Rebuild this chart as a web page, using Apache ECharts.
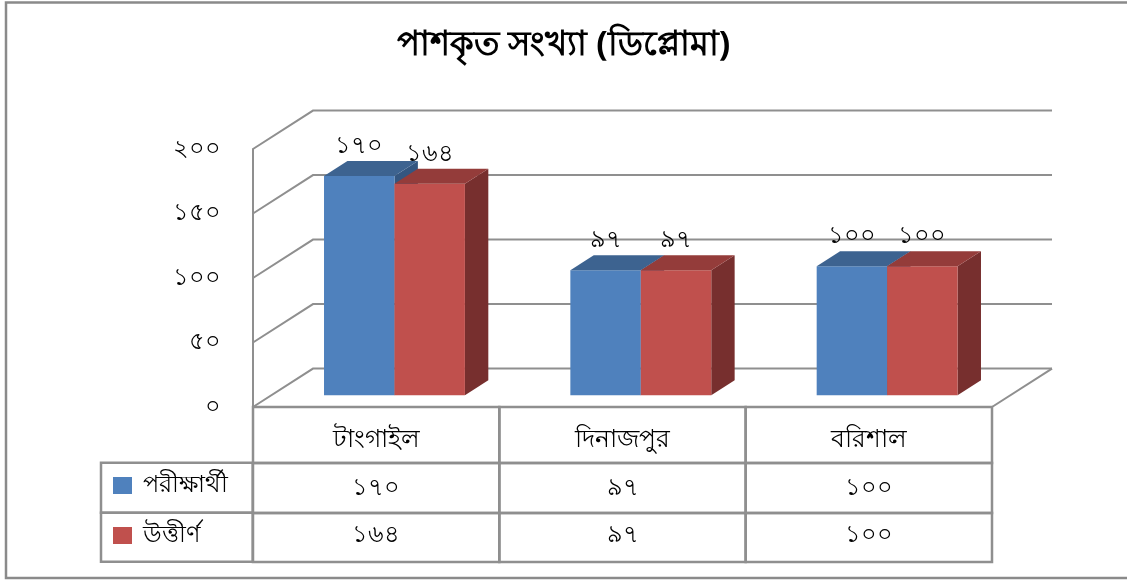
<!DOCTYPE html>
<html><head><meta charset="utf-8">
<script src="https://cdn.jsdelivr.net/npm/echarts@6/dist/echarts.min.js"></script>
<style>html,body{margin:0;padding:0;background:#fff}#c{width:1127px;height:580px}</style>
</head><body><div id="c"></div>
<script>
// ---- data ----
var titleText = 'পাশকৃত সংখ্যা (ডিপ্লোমা)';
var categories = ['টাংগাইল', 'দিনাজপুর', 'বরিশাল'];
var seriesNames = ['পরীক্ষার্থী', 'উত্তীর্ণ'];
var examinees = [170, 97, 100];
var passed = [164, 97, 100];
var yTicks = [0, 50, 100, 150, 200];

// ---- style / geometry ----
var FONT = '"Noto Sans", "DejaVu Sans", sans-serif';
var DX = 60, DY = -38.4;       // depth of the 3D box
var F0 = 0.305, FD = 0.39;     // bar front depth fraction, bar depth fraction
var BW = 0.286;                // bar width as fraction of category width
var LINE = '#8f8f8f';
var COLORS = [
  {front: '#4F81BD', top: '#3D6390', side: '#345680'},
  {front: '#C0504D', top: '#943C3A', side: '#772F2E'}
];
function bn(n) { return String(n).replace(/\d/g, function (d) { return '০১২৩৪৫৬৭৮৯'[d]; }); }

var chart = echarts.init(document.getElementById('c'), null, {renderer: 'canvas'});

function makeBar(si, vals) {
  return {
    type: 'custom', name: seriesNames[si], coordinateSystem: 'cartesian2d', z: 3 + si,
    data: vals.map(function (v, i) { return [i, v]; }),
    renderItem: function (params, api) {
      var i = api.value(0), v = api.value(1);
      var b = api.coord([i, 0]), t = api.coord([i, v]);
      var cw = api.size([1, 0])[0], w = cw * BW;
      var ox = DX * F0, oy = DY * F0, ddx = DX * FD, ddy = DY * FD;
      var x0 = b[0] + ox + (si === 0 ? -w : 0), yb = b[1] + oy, yt = t[1] + oy;
      var c = COLORS[si];
      return {type: 'group', children: [
        {type: 'polygon', shape: {points: [[x0 + w, yt], [x0 + w + ddx, yt + ddy], [x0 + w + ddx, yb + ddy], [x0 + w, yb]]}, style: {fill: c.side}},
        {type: 'rect', shape: {x: x0, y: yt, width: w, height: yb - yt}, style: {fill: c.front}},
        {type: 'polygon', shape: {points: [[x0, yt], [x0 + w, yt], [x0 + w + ddx, yt + ddy], [x0 + ddx, yt + ddy]]}, style: {fill: c.top}},
        {type: 'text', style: {text: bn(v), x: x0 + w / 2, y: yt + ddy - 15, align: 'center', verticalAlign: 'middle', fontSize: 24, fill: '#000', fontFamily: FONT}}
      ]};
    }
  };
}

var gridSeries = {
  type: 'custom', coordinateSystem: 'cartesian2d', z: 1, silent: true,
  data: yTicks.map(function (v) { return [0, v]; }),
  renderItem: function (params, api) {
    var cs = params.coordSys;
    var y = api.coord([0, api.value(1)])[1];
    var x = cs.x, xr = cs.x + cs.width;
    var kids = [
      {type: 'polyline', shape: {points: [[x, y], [x + DX, y + DY], [xr + DX, y + DY]]}, style: {stroke: LINE, lineWidth: 2, fill: null}}
    ];
    if (api.value(1) === 0) {
      kids.push({type: 'line', shape: {x1: xr, y1: y, x2: xr + DX, y2: y + DY}, style: {stroke: LINE, lineWidth: 2}});
    }
    return {type: 'group', children: kids};
  }
};

var tableSeries = {
  type: 'custom', coordinateSystem: 'cartesian2d', z: 2, silent: true,
  data: categories.map(function (c, i) { return [i, 0]; }),
  renderItem: function (params, api) {
    var i = api.value(0);
    var p = api.coord([i, 0]);
    var cw = api.size([1, 0])[0];
    var x = p[0] - cw / 2, y0 = p[1];
    var rows = [y0, y0 + 56, y0 + 106, y0 + 155];
    var texts = [categories[i], bn(examinees[i]), bn(passed[i])];
    var tOff = [33, 25, 22];
    var kids = [];
    for (var r = 0; r < 3; r++) {
      kids.push({type: 'rect', shape: {x: x, y: rows[r], width: cw, height: rows[r + 1] - rows[r]}, style: {stroke: LINE, lineWidth: 2.5, fill: null}});
      kids.push({type: 'text', style: {text: texts[r], x: p[0], y: rows[r] + tOff[r], align: 'center', verticalAlign: 'middle', fontSize: r === 0 ? 25 : 24, fill: '#000', fontFamily: FONT}});
    }
    return {type: 'group', children: kids};
  }
};

chart.setOption({
  animation: false,
  color: [COLORS[0].front, COLORS[1].front],
  title: {text: titleText, left: 'center', top: 23, textStyle: {fontSize: 34, fontWeight: 'bold', color: '#000', fontFamily: FONT}},
  legend: {
    data: seriesNames, orient: 'vertical', left: 113, top: 473.5, padding: 0, itemWidth: 19, itemHeight: 17, itemGap: 26,
    icon: 'rect', selectedMode: false,
    textStyle: {fontSize: 24, color: '#000', fontFamily: FONT, padding: [0, 0, 0, 6]}
  },
  grid: {left: 253, top: 149, width: 739, height: 258, containLabel: false},
  xAxis: {type: 'category', data: categories, axisLine: {show: false}, axisTick: {show: false}, axisLabel: {show: false}, splitLine: {show: false}},
  yAxis: {type: 'value', min: 0, max: 200, interval: 50,
    axisLine: {show: true, lineStyle: {color: LINE, width: 2}}, axisTick: {show: false}, splitLine: {show: false},
    axisLabel: {formatter: function (v) { return bn(v); }, margin: 32, fontSize: 24, color: '#000', fontFamily: FONT}},
  graphic: [
    {type: 'rect', shape: {x: 6, y: 2.5, width: 1140, height: 575.5}, style: {stroke: '#8a8a8a', lineWidth: 2.5, fill: null}, z: 0},
    {type: 'rect', shape: {x: 101, y: 462.7, width: 151.7, height: 50}, style: {stroke: LINE, lineWidth: 2.5, fill: null}, z: 1},
    {type: 'rect', shape: {x: 101, y: 512.7, width: 151.7, height: 49}, style: {stroke: LINE, lineWidth: 2.5, fill: null}, z: 1}
  ],
  series: [gridSeries, tableSeries, makeBar(0, examinees), makeBar(1, passed)]
});
</script></body></html>
